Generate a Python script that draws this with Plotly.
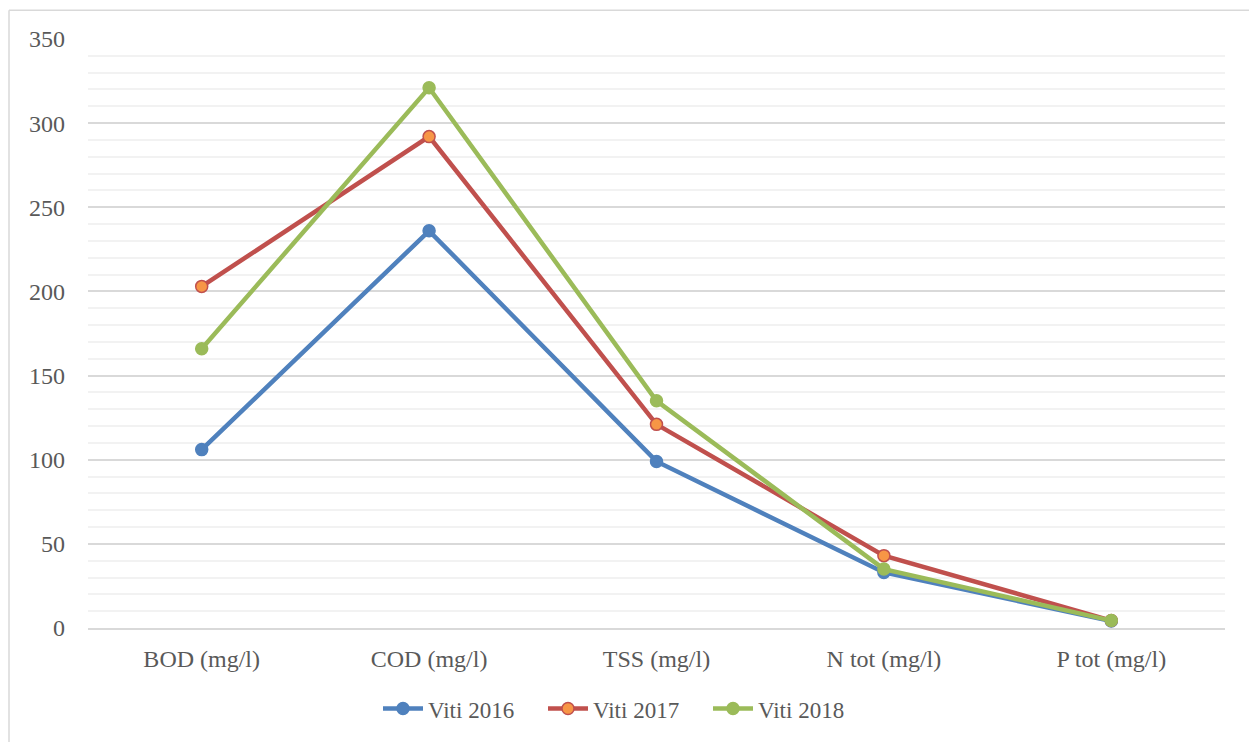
import plotly.graph_objects as go

# Wastewater parameters and measured concentrations per year
categories = ["BOD (mg/l)", "COD (mg/l)", "TSS (mg/l)", "N tot (mg/l)", "P tot (mg/l)"]
viti_2016 = [106, 236, 99, 33, 4.2]
viti_2017 = [203, 292, 121, 43, 4.4]
viti_2018 = [166, 321, 135, 35, 4.4]
y_ticks = [0, 50, 100, 150, 200, 250, 300, 350]

FONT = "Liberation Serif"
TEXT = "#595959"

series = [
    ("Viti 2016", viti_2016, "#4F81BD", "#4F81BD", "#4F81BD"),
    ("Viti 2017", viti_2017, "#C0504D", "#F79646", "#C0504D"),
    ("Viti 2018", viti_2018, "#9BBB59", "#9BBB59", "#9BBB59"),
]

fig = go.Figure()
for name, values, line_col, fill_col, edge_col in series:
    fig.add_trace(go.Scatter(
        x=categories, y=values, name=name, mode="lines+markers",
        line=dict(color=line_col, width=4.5),
        marker=dict(size=12, color=fill_col, line=dict(color=edge_col, width=1.5)),
    ))

# Chart frame (top and left edges)
left_px, right_px, top_px, bottom_px = 88, 1225, 39, 631
def px_x(v):
    return (v - left_px) / (right_px - left_px)
def px_y(v):
    return (bottom_px - v) / (bottom_px - top_px)

frame = dict(color="#D9D9D9", width=1.5)
fig.add_shape(type="line", xref="paper", yref="paper",
              x0=px_x(9), x1=px_x(1260), y0=px_y(10), y1=px_y(10), line=frame)
fig.add_shape(type="line", xref="paper", yref="paper",
              x0=px_x(9), x1=px_x(9), y0=px_y(10), y1=px_y(760), line=frame)

fig.update_layout(
    width=1249, height=742,
    margin=dict(l=left_px, r=1249 - right_px, t=top_px, b=742 - bottom_px),
    paper_bgcolor="white", plot_bgcolor="white",
    font=dict(family=FONT, color=TEXT, size=23),
    showlegend=True,
    legend=dict(orientation="h", x=px_x(378), xanchor="left",
                y=px_y(712), yanchor="middle",
                font=dict(family=FONT, size=23, color=TEXT),
                entrywidth=110, entrywidthmode="pixels",
                itemwidth=40, traceorder="normal"),
)
fig.update_xaxes(
    type="category", range=[-0.5, 4.5],
    showgrid=False, showline=True, linecolor="#D9D9D9", linewidth=1.5,
    ticks="", tickfont=dict(family=FONT, size=24, color=TEXT),
    ticklabelstandoff=8,
)
fig.update_yaxes(
    range=[0, 350], tickvals=y_ticks,
    showgrid=True, gridcolor="#D9D9D9", gridwidth=1.5,
    zeroline=True, zerolinecolor="#D9D9D9", zerolinewidth=1.5,
    minor=dict(dtick=10, showgrid=True, gridcolor="#F2F2F2", gridwidth=1.5),
    showline=False, ticks="",
    tickfont=dict(family=FONT, size=24, color=TEXT),
    ticklabelstandoff=22,
)

fig.write_html("out.html")
